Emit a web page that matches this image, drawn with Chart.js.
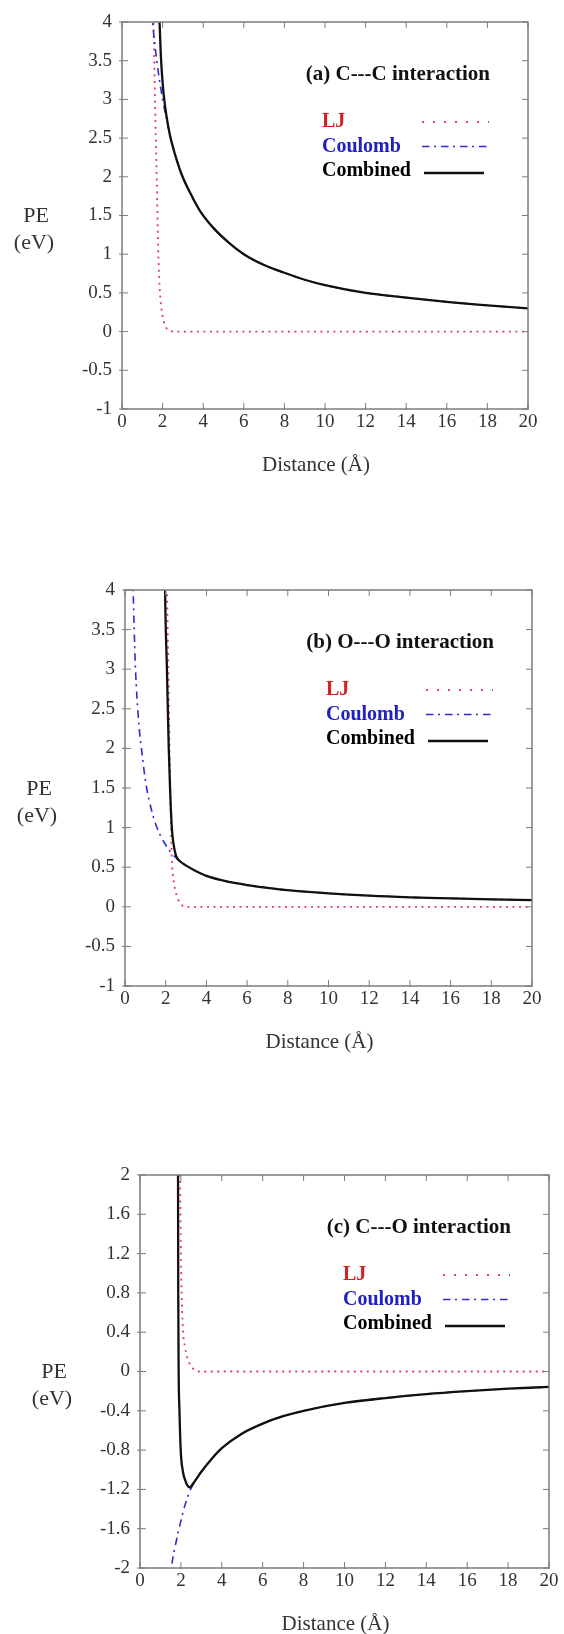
<!DOCTYPE html>
<html>
<head>
<meta charset="utf-8">
<script src="https://cdn.jsdelivr.net/npm/chart.js@4.4.0/dist/chart.umd.min.js"></script>
<style>
  body { margin: 0; background: #ffffff; }
  canvas { position: absolute; left: 0; }
</style>
</head>
<body>
<canvas id="chartA" width="564" height="500" style="top:0px"></canvas>
<canvas id="chartB" width="564" height="540" style="top:540px"></canvas>
<canvas id="chartC" width="564" height="534" style="top:1100px"></canvas>
<script>
//------------------------------------------------------
// data (distance in A, PE in eV)
var seriesNames = ['LJ', 'Coulomb', 'Combined'];
var panelTitles = ['(a) C---C interaction', '(b) O---O interaction', '(c) C---O interaction'];
var xTitle = 'Distance (\u00c5)';
var yTitle = ['PE', '(eV)'];

var distTicks = [0, 2, 4, 6, 8, 10, 12, 14, 16, 18, 20];
var peTicksAB = [-1, -0.5, 0, 0.5, 1, 1.5, 2, 2.5, 3, 3.5, 4];
var peTicksC = [-2, -1.6, -1.2, -0.8, -0.4, 0, 0.4, 0.8, 1.2, 1.6, 2];

// (a) C---C
var ccLJx = [1.50, 1.55, 1.59, 1.65, 1.71, 1.79, 1.87, 1.99, 2.12, 2.36, 2.6, 4, 8, 12, 16, 20];
var ccLJy = [5.0, 4.0, 3.5, 2.7, 2.0, 1.0, 0.5, 0.22, 0.08, 0.01, 0, 0, 0, 0, 0, 0];
var ccCoulx = [1.45, 1.5, 1.6, 1.7, 1.8, 1.9, 2.0, 2.12, 2.2, 2.36, 2.6, 2.94, 3.4, 3.84, 4.5, 5.3, 6, 7, 8, 9, 10, 12, 14, 16, 18, 20];
var ccCouly = [4.14, 4.0, 3.75, 3.53, 3.33, 3.16, 3.0, 2.84, 2.75, 2.54, 2.3, 2.03, 1.77, 1.56, 1.34, 1.14, 1.0, 0.86, 0.76, 0.67, 0.6, 0.5, 0.44, 0.385, 0.34, 0.3];
var ccCombx = [1.80, 1.85, 1.9, 1.95, 2.0, 2.05, 2.12, 2.2, 2.36, 2.6, 2.94, 3.4, 3.84, 4.5, 5.3, 6, 7, 8, 9, 10, 12, 14, 16, 18, 20];
var ccComby = [4.4, 4.0, 3.65, 3.4, 3.22, 3.07, 2.92, 2.77, 2.54, 2.3, 2.03, 1.77, 1.56, 1.34, 1.14, 1.0, 0.86, 0.76, 0.67, 0.6, 0.5, 0.44, 0.385, 0.34, 0.3];

// (b) O---O
var ooLJx = [2.0, 2.06, 2.13, 2.19, 2.24, 2.3, 2.38, 2.48, 2.6, 2.8, 3.1, 5, 10, 15, 20];
var ooLJy = [4.6, 4.0, 3.0, 2.0, 1.3, 0.6, 0.35, 0.2, 0.1, 0.02, 0, 0, 0, 0, 0];
var ooCoulx = [0.36, 0.4, 0.5, 0.6, 0.7, 0.83, 1.0, 1.2, 1.5, 1.8, 2.0, 2.3, 2.55, 2.7, 3.0, 3.5, 4, 5, 6, 7, 8, 10, 12, 14, 16, 18, 20];
var ooCouly = [4.4, 4.0, 3.1, 2.6, 2.25, 1.95, 1.6, 1.33, 1.05, 0.87, 0.78, 0.67, 0.61, 0.575, 0.52, 0.45, 0.39, 0.32, 0.275, 0.24, 0.21, 0.17, 0.14, 0.12, 0.107, 0.095, 0.085];
var ooCombx = [1.95, 1.97, 2.06, 2.15, 2.22, 2.3, 2.38, 2.46, 2.55, 2.7, 3.0, 3.5, 4, 5, 6, 7, 8, 10, 12, 14, 16, 18, 20];
var ooComby = [4.6, 4.0, 3.0, 2.0, 1.45, 1.0, 0.8, 0.69, 0.62, 0.575, 0.52, 0.45, 0.39, 0.32, 0.275, 0.24, 0.21, 0.17, 0.14, 0.12, 0.107, 0.095, 0.085];

// (c) C---O
var coLJx = [1.92, 1.96, 2.0, 2.05, 2.1, 2.2, 2.3, 2.45, 2.65, 2.9, 4, 8, 12, 16, 20];
var coLJy = [2.6, 2.0, 1.2, 0.7, 0.42, 0.25, 0.15, 0.07, 0.02, 0, 0, 0, 0, 0, 0];
var coCoulx = [1.45, 1.53, 1.78, 2.0, 2.2, 2.43, 2.6, 2.8, 3.0, 3.5, 4, 5, 6, 7, 8, 10, 12, 14, 16, 18, 20];
var coCouly = [-2.15, -2.0, -1.72, -1.52, -1.36, -1.22, -1.15, -1.08, -1.02, -0.89, -0.78, -0.63, -0.53, -0.455, -0.4, -0.32, -0.27, -0.23, -0.2, -0.175, -0.157];
var coCombx = [1.84, 1.86, 1.87, 1.89, 1.93, 1.99, 2.1, 2.2, 2.32, 2.43, 2.6, 2.8, 3.0, 3.5, 4, 5, 6, 7, 8, 10, 12, 14, 16, 18, 20];
var coComby = [2.6, 2.0, 0.8, 0.0, -0.4, -0.8, -1.02, -1.1, -1.16, -1.18, -1.14, -1.08, -1.02, -0.89, -0.78, -0.63, -0.53, -0.455, -0.4, -0.32, -0.27, -0.23, -0.2, -0.175, -0.157];

//------------------------------------------------------
var serif = '"Liberation Serif", "Times New Roman", serif';
var lineColors = ['#e2405e', '#2c2cd2', '#111111'];
var legendColors = ['#d42222', '#2020c4', '#000000'];
var lineDash = [[2, 4.5], [7.5, 4.5, 2, 5], []];
var legendDash = [[2, 9], [7.5, 4.5, 2, 5], []];
var lineWidths = [1.8, 1.6, 2.3];

function makePoints(xs, ys){
  var pts = [];
  for (var i = 0; i < xs.length; i++){
    pts.push({x: xs[i], y: ys[i]});
  }
  return pts;
}

// box, inward ticks, labels and in-plot legend
var framePlugin = {
  id: 'frame',
  afterDraw: function(chart, args, opts){
    var ctx = chart.ctx;
    var a = chart.chartArea;
    var xs = chart.scales.x, ys = chart.scales.y;
    ctx.save();
    ctx.strokeStyle = '#7c7c7c';
    ctx.lineWidth = 1.5;
    ctx.strokeRect(a.left, a.top, a.right - a.left, a.bottom - a.top);
    ctx.lineWidth = 1;
    ctx.beginPath();
    xs.ticks.forEach(function(t){
      var px = xs.getPixelForValue(t.value);
      ctx.moveTo(px, a.bottom + 1); ctx.lineTo(px, a.bottom - 6);
      ctx.moveTo(px, a.top); ctx.lineTo(px, a.top + 6);
    });
    ys.ticks.forEach(function(t){
      var py = ys.getPixelForValue(t.value);
      ctx.moveTo(a.left - 3, py); ctx.lineTo(a.left + 6, py);
      ctx.moveTo(a.right, py); ctx.lineTo(a.right - 6, py);
    });
    ctx.stroke();

    // axis titles
    var midY = (a.top + a.bottom) / 2;
    ctx.fillStyle = '#333333';
    ctx.font = '22px ' + serif;
    ctx.textAlign = 'center';
    ctx.textBaseline = 'middle';
    ctx.fillText(yTitle[0], a.left - 86, midY + 1);
    ctx.fillText(yTitle[1], a.left - 88, midY + 28);
    ctx.font = '21px ' + serif;
    ctx.fillText(xTitle, (a.left + a.right) / 2 - 9, a.bottom + 56);

    // panel title
    ctx.font = 'bold 21px ' + serif;
    ctx.fillStyle = '#111111';
    ctx.textAlign = 'right';
    ctx.fillText(opts.title, a.right - 38, a.top + 53);

    // legend : text left, line sample right
    ctx.font = 'bold 20px ' + serif;
    chart.data.datasets.forEach(function(ds, i){
      var y = a.top + 100 + i * 24.5;
      ctx.textAlign = 'left';
      ctx.fillStyle = legendColors[i];
      ctx.fillText(ds.label, a.right - 206, y);
      ctx.strokeStyle = ds.borderColor;
      ctx.lineWidth = ds.borderWidth;
      ctx.setLineDash(legendDash[i]);
      ctx.beginPath();
      ctx.moveTo(a.right - (i == 2 ? 104 : 106), y + (i == 2 ? 2 : 0));
      ctx.lineTo(a.right - (i == 2 ? 44 : 39), y + (i == 2 ? 2 : 0));
      ctx.stroke();
    });
    ctx.restore();
  }
};

function printChart(target, panel){
  var ctx = document.getElementById(target).getContext('2d');
  var sets = [];
  for (var i = 0; i < 3; i++){
    sets.push({
      label: seriesNames[i],
      data: makePoints(panel.xs[i], panel.ys[i]),
      borderColor: lineColors[i],
      borderWidth: lineWidths[i],
      borderDash: lineDash[i],
      pointRadius: 0,
      fill: false,
      cubicInterpolationMode: 'monotone',
      order: 3 - i
    });
  }
  var yTicks = panel.yTicks;
  var myChart = new Chart(ctx, {
    type: 'line',
    data: { datasets: sets },
    options: {
      responsive: false,
      animation: false,
      devicePixelRatio: 1,
      layout: { padding: { left: 0, top: panel.top, right: 564 - panel.right, bottom: 0 } },
      plugins: {
        legend: { display: false },
        tooltip: { enabled: false },
        frame: { title: panel.title }
      },
      scales: {
        x: {
          type: 'linear', min: 0, max: 20,
          grid: { display: false, drawTicks: false },
          border: { display: false },
          afterBuildTicks: function(s){ s.ticks = distTicks.map(function(v){ return {value: v}; }); },
          afterFit: function(s){ s.height = panel.height - panel.bottom; },
          ticks: {
            autoSkip: false, maxRotation: 0, padding: 2, color: '#333333',
            font: { family: serif, size: 19 },
            callback: function(v){ return String(v); }
          }
        },
        y: {
          type: 'linear', min: yTicks[0], max: yTicks[yTicks.length - 1],
          grid: { display: false, drawTicks: false },
          border: { display: false },
          afterBuildTicks: function(s){ s.ticks = yTicks.map(function(v){ return {value: v}; }); },
          afterFit: function(s){ s.width = panel.left; },
          ticks: {
            autoSkip: false, padding: 10, color: '#333333',
            font: { family: serif, size: 19 },
            callback: function(v){ return String(Math.round(v * 10) / 10); }
          }
        }
      }
    },
    plugins: [framePlugin]
  });
  return myChart;
}

printChart('chartA', {
  title: panelTitles[0], yTicks: peTicksAB,
  xs: [ccLJx, ccCoulx, ccCombx], ys: [ccLJy, ccCouly, ccComby],
  left: 122, right: 528, top: 22, bottom: 409, height: 500
});
printChart('chartB', {
  title: panelTitles[1], yTicks: peTicksAB,
  xs: [ooLJx, ooCoulx, ooCombx], ys: [ooLJy, ooCouly, ooComby],
  left: 125, right: 532, top: 50, bottom: 446, height: 540
});
printChart('chartC', {
  title: panelTitles[2], yTicks: peTicksC,
  xs: [coLJx, coCoulx, coCombx], ys: [coLJy, coCouly, coComby],
  left: 140, right: 549, top: 75, bottom: 468, height: 534
});
</script>
</body>
</html>
